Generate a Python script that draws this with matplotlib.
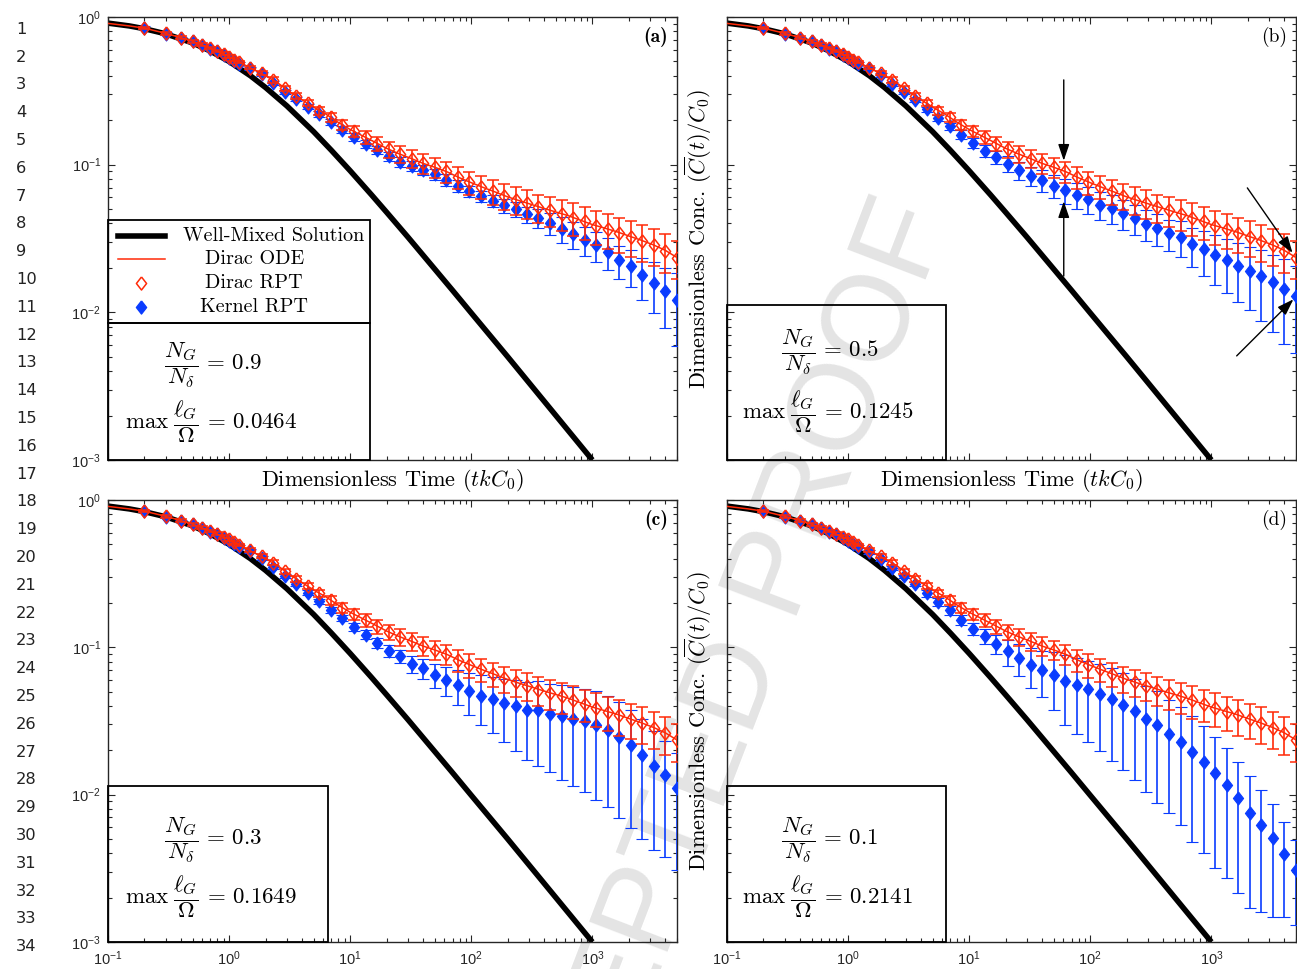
import numpy as np
import matplotlib
matplotlib.use('Agg')
import matplotlib.pyplot as plt
from matplotlib.patches import Rectangle
from matplotlib.lines import Line2D
from matplotlib.ticker import LogLocator, NullFormatter, FixedLocator

plt.rcParams['mathtext.fontset'] = 'cm'
plt.rcParams['font.family'] = ['cmr10', 'DejaVu Serif']
plt.rcParams['axes.unicode_minus'] = False
plt.rcParams['axes.formatter.use_mathtext'] = True

# ---------------- data ----------------
T_WM = [0.1, 0.15, 0.2, 0.3, 0.5, 0.7, 1, 1.5, 2, 3, 5, 7, 10, 15, 20, 30, 50, 70,
        100, 200, 500, 1000]
C_WM = [0.909, 0.87, 0.833, 0.769, 0.667, 0.588, 0.5, 0.4, 0.333, 0.25, 0.167, 0.125,
        0.0909, 0.0625, 0.0476, 0.0323, 0.0196, 0.0141, 0.0099, 0.005, 0.002, 0.001]

T_ODE = [0.1, 0.15, 0.2, 0.3, 0.4, 0.5, 0.7, 1.0, 1.3, 1.6, 2.0, 2.5, 3.2, 4.0, 5.0,
         6.3, 8.0, 10, 12.6, 16, 20, 25, 32, 40, 50, 63, 80, 100, 126, 160, 200, 250,
         320, 400, 500, 630, 800, 1000, 1260, 1600, 2000, 2500, 3200, 4000, 5000]
C_ODE = [0.905, 0.87, 0.84, 0.775, 0.725, 0.685, 0.615, 0.54, 0.48, 0.44, 0.40, 0.36,
         0.31, 0.275, 0.245, 0.22, 0.193, 0.173, 0.157, 0.142, 0.129, 0.119, 0.110,
         0.102, 0.096, 0.0895, 0.0815, 0.0755, 0.070, 0.065, 0.0605, 0.057, 0.0535,
         0.0505, 0.0478, 0.0452, 0.042, 0.0393, 0.0372, 0.0351, 0.0329, 0.0309,
         0.0286, 0.0263, 0.0235]

T_RPT = [0.2, 0.3, 0.4, 0.5, 0.6, 0.7, 0.8, 0.9, 1.0, 1.1, 1.2,
         1.49, 1.86, 2.32, 2.89, 3.59, 4.47, 5.57, 6.94, 8.64, 10.8,
         13.4, 16.7, 20.8, 25.9, 32.2, 40.1, 49.9, 62.2, 77.4, 96.4,
         120, 150, 186, 232, 289, 359, 448, 557, 694, 864,
         1076, 1340, 1668, 2077, 2587, 3221, 4011, 5000]

DIRAC_RPT = [0.84, 0.775, 0.725, 0.685, 0.65, 0.615, 0.59, 0.565, 0.54, 0.515, 0.495,
             0.455, 0.418, 0.375, 0.328, 0.291, 0.261, 0.232, 0.209, 0.186, 0.168,
             0.153, 0.139, 0.127, 0.118, 0.110, 0.102, 0.096, 0.090, 0.082, 0.076,
             0.071, 0.066, 0.0615, 0.058, 0.055, 0.0515, 0.049, 0.0465, 0.0437, 0.0413,
             0.0387, 0.0365, 0.0345, 0.0325, 0.0306, 0.0285, 0.0262, 0.0235]
DIRAC_ERR = [0.017, 0.0155, 0.0145, 0.0137, 0.013, 0.0123, 0.0118, 0.0113, 0.0108, 0.0103, 0.0099,
             0.0137, 0.0125, 0.015, 0.0131, 0.0146, 0.013, 0.0139, 0.0146, 0.0149, 0.0151,
             0.0153, 0.0153, 0.0152, 0.0153, 0.0154, 0.0153, 0.0144, 0.0144, 0.0139, 0.0137,
             0.0128, 0.0125, 0.0123, 0.0122, 0.0121, 0.0113, 0.0113, 0.0112, 0.0109, 0.0103,
             0.0101, 0.0095, 0.0093, 0.0088, 0.0086, 0.0080, 0.0076, 0.0068]

KERNEL_A = [0.847, 0.772, 0.721, 0.685, 0.647, 0.611, 0.586, 0.557, 0.531, 0.504, 0.484,
            0.448, 0.410, 0.356, 0.312, 0.277, 0.247, 0.220, 0.194, 0.173, 0.155,
            0.139, 0.126, 0.114, 0.105, 0.098, 0.092, 0.086, 0.079, 0.072, 0.066,
            0.061, 0.057, 0.053, 0.050, 0.046, 0.0436, 0.040, 0.0368, 0.034, 0.0308,
            0.0284, 0.0257, 0.0226, 0.0206, 0.0178, 0.0159, 0.0139, 0.0122]
KERNEL_A_ERR = [0.017, 0.0154, 0.0144, 0.0137, 0.0129, 0.0122, 0.0117, 0.0111, 0.0106, 0.0101, 0.0097,
                0.0134, 0.0123, 0.0107, 0.0094, 0.0083, 0.0099, 0.0099, 0.0097, 0.0095, 0.0093,
                0.0090, 0.0088, 0.0086, 0.0084, 0.0078, 0.0074, 0.0073, 0.0071, 0.0065, 0.0059,
                0.0055, 0.0057, 0.0058, 0.0060, 0.0060, 0.0065, 0.0068, 0.0074, 0.0071, 0.0068,
                0.0065, 0.0062, 0.0057, 0.0058, 0.0057, 0.0060, 0.0061, 0.0063]

KERNEL_B = [0.84, 0.772, 0.72, 0.683, 0.645, 0.61, 0.584, 0.556, 0.53, 0.503, 0.483,
            0.448, 0.405, 0.352, 0.31, 0.275, 0.238, 0.207, 0.1815, 0.1595, 0.140,
            0.1244, 0.1127, 0.1017, 0.0916, 0.0843, 0.0783, 0.0721, 0.0671, 0.0627, 0.0586,
            0.0537, 0.0510, 0.0469, 0.0434, 0.0399, 0.0373, 0.0342, 0.0325, 0.0288, 0.0267,
            0.0243, 0.0225, 0.0206, 0.0190, 0.0176, 0.0160, 0.0145, 0.0130]
KERNEL_B_ERR = [0.017, 0.0154, 0.0144, 0.0137, 0.0129, 0.0122, 0.0117, 0.0111, 0.0106, 0.0101, 0.0097,
                0.0134, 0.0122, 0.0106, 0.0093, 0.0083, 0.0095, 0.0104, 0.0109, 0.0112, 0.0112,
                0.0112, 0.0113, 0.0122, 0.0128, 0.0126, 0.0133, 0.0130, 0.0127, 0.0125, 0.0123,
                0.0118, 0.0112, 0.0108, 0.0100, 0.0096, 0.0090, 0.0082, 0.0088, 0.0086, 0.0091,
                0.0090, 0.0090, 0.0089, 0.0087, 0.0088, 0.0086, 0.0084, 0.0077]

KERNEL_C = [0.84, 0.772, 0.72, 0.683, 0.645, 0.61, 0.584, 0.556, 0.53, 0.503, 0.483,
            0.452, 0.405, 0.350, 0.305, 0.270, 0.235, 0.205, 0.180, 0.158, 0.137,
            0.1216, 0.1067, 0.0945, 0.0867, 0.0773, 0.0722, 0.0651, 0.0602, 0.0557, 0.0509,
            0.0471, 0.0445, 0.0418, 0.0397, 0.0377, 0.0373, 0.0354, 0.0340, 0.0326, 0.0314,
            0.0298, 0.0273, 0.0246, 0.0218, 0.0187, 0.0157, 0.0135, 0.0111]
KERNEL_C_ERR = [0.017, 0.0154, 0.0144, 0.0137, 0.0129, 0.0122, 0.0117, 0.0111, 0.0106, 0.0101, 0.0097,
                0.0136, 0.0122, 0.0105, 0.0092, 0.0081, 0.0094, 0.0082, 0.0090, 0.0079, 0.0082,
                0.0085, 0.0085, 0.0085, 0.0087, 0.0100, 0.0116, 0.0124, 0.0132, 0.0150, 0.0163,
                0.0174, 0.0182, 0.0192, 0.0199, 0.0204, 0.0216, 0.0212, 0.0214, 0.0212, 0.0210,
                0.0206, 0.0191, 0.0177, 0.0159, 0.0137, 0.0115, 0.0097, 0.0080]

KERNEL_D = [0.84, 0.772, 0.72, 0.683, 0.645, 0.61, 0.584, 0.556, 0.53, 0.503, 0.483,
            0.445, 0.400, 0.344, 0.303, 0.268, 0.233, 0.2045, 0.178, 0.154, 0.134,
            0.119, 0.1056, 0.0937, 0.0845, 0.0761, 0.0704, 0.0651, 0.0595, 0.0554, 0.0520,
            0.0482, 0.0445, 0.0408, 0.0367, 0.0326, 0.0295, 0.0258, 0.0228, 0.0194, 0.0166,
            0.0140, 0.0117, 0.00944, 0.00751, 0.00619, 0.00508, 0.00398, 0.00310]
KERNEL_D_ERR = [0.017, 0.0154, 0.0144, 0.0137, 0.0129, 0.0122, 0.0117, 0.0111, 0.0106, 0.0101, 0.0097,
                0.0134, 0.0120, 0.0103, 0.0091, 0.0080, 0.0117, 0.0123, 0.0125, 0.0123, 0.0134,
                0.0143, 0.0158, 0.0187, 0.0211, 0.0228, 0.0246, 0.0273, 0.0298, 0.0294, 0.0291,
                0.0284, 0.0276, 0.0261, 0.0242, 0.0222, 0.0207, 0.0183, 0.0166, 0.0146, 0.0126,
                0.0108, 0.0090, 0.0073, 0.0058, 0.0046, 0.0036, 0.0025, 0.0018]

KERNEL = [KERNEL_A, KERNEL_B, KERNEL_C, KERNEL_D]
KERNEL_ERR = [KERNEL_A_ERR, KERNEL_B_ERR, KERNEL_C_ERR, KERNEL_D_ERR]

PANEL_LABELS = ['(a)', '(b)', '(c)', '(d)']
NG_RATIO = ['0.9', '0.5', '0.3', '0.1']
MAX_LG = ['0.0464', '0.1245', '0.1649', '0.2141']
LEGEND_LABELS = ['Well-Mixed Solution', 'Dirac ODE', 'Dirac RPT', 'Kernel RPT']
XTICKS = [0.1, 1, 10, 100, 1000]
XTICK_LABELS = [r'$\mathregular{10^{-1}}$', r'$\mathregular{10^{0}}$', r'$\mathregular{10^{1}}$',
                r'$\mathregular{10^{2}}$', r'$\mathregular{10^{3}}$']
YTICKS = [0.001, 0.01, 0.1, 1]
YTICK_LABELS = [r'$\mathregular{10^{-3}}$', r'$\mathregular{10^{-2}}$', r'$\mathregular{10^{-1}}$',
                r'$\mathregular{10^{0}}$']
# annotation arrows in panel (b): (tail, tip) in data coordinates
ARROWS_B = [((60.4, 0.375), (60.4, 0.1064)),
            ((60.4, 0.0176), (60.4, 0.0565)),
            ((1982, 0.0696), (4677, 0.0253)),
            ((1618, 0.00507), (4760, 0.01225))]

# ---------------- style ----------------
RED = '#ff2a08'
BLUE = '#0a3cff'
DARK = '#262626'
DIAMOND = [(0, 1), (0.78, 0), (0, -1), (-0.78, 0), (0, 1)]
MS = 9.4

W, H = 1297, 969
fig = plt.figure(figsize=(W / 100, H / 100), dpi=100)
fig.patch.set_facecolor('white')

def px_rect(l, t, r, b):
    return [l / W, 1 - b / H, (r - l) / W, (b - t) / H]

AX_RECTS = [px_rect(108, 17, 677, 460), px_rect(727, 17, 1296, 460),
            px_rect(108, 500, 677, 942), px_rect(727, 500, 1296, 942)]

axes = []
for i, rect in enumerate(AX_RECTS):
    ax = fig.add_axes(rect)
    ax.patch.set_alpha(0)
    ax.set_xscale('log')
    ax.set_yscale('log')
    ax.set_xlim(0.1, 5000)
    ax.set_ylim(1e-3, 1)

    ax.plot(T_WM, C_WM, color='k', lw=4.0, zorder=2, solid_capstyle='butt')
    ax.errorbar(T_RPT, KERNEL[i], yerr=KERNEL_ERR[i], marker=DIAMOND, ms=MS,
                mfc=BLUE, mec=BLUE, mew=0.8, ls='none', ecolor=BLUE, elinewidth=1.2,
                capsize=4.3, capthick=1.2, zorder=3)
    ax.errorbar(T_RPT, DIRAC_RPT, yerr=DIRAC_ERR, marker=DIAMOND, ms=MS,
                mfc='none', mec=RED, mew=1.1, ls='none', ecolor=RED, elinewidth=1.2,
                capsize=4.3, capthick=1.2, zorder=4)
    ax.plot(T_ODE, C_ODE, color=RED, lw=1.1, zorder=5)

    ax.xaxis.set_major_locator(FixedLocator(XTICKS))
    ax.yaxis.set_major_locator(FixedLocator(YTICKS))
    ax.xaxis.set_minor_locator(LogLocator(base=10, subs=np.arange(2, 10), numticks=30))
    ax.yaxis.set_minor_locator(LogLocator(base=10, subs=np.arange(2, 10), numticks=30))
    ax.xaxis.set_minor_formatter(NullFormatter())
    ax.yaxis.set_minor_formatter(NullFormatter())
    if i >= 2:
        ax.set_xticklabels(XTICK_LABELS)
    else:
        ax.set_xticklabels([])
    if i % 2 == 0:
        ax.set_yticklabels(YTICK_LABELS)
    else:
        ax.set_yticklabels([])
    ax.tick_params(which='both', direction='in', top=True, right=True, colors=DARK,
                   labelsize=10.5, labelfontfamily='Liberation Sans', width=0.8)
    ax.tick_params(which='major', length=5, pad=5)
    ax.tick_params(which='minor', length=3)
    for sp in ax.spines.values():
        sp.set_linewidth(1.0)
        sp.set_color(DARK)

    if i < 2:
        ax.set_xlabel(r'Dimensionless Time $(tkC_0)$', fontsize=16, labelpad=0)
    if i % 2 == 1:
        ax.set_ylabel(r'Dimensionless Conc. $(\overline{C}(t)/C_0)$', fontsize=16, labelpad=4)

    bold = i in (0, 2)
    ax.text(0.984, 0.955, PANEL_LABELS[i], transform=ax.transAxes, ha='right', va='center',
            fontsize=14, family='cmb10' if bold else 'cmr10', zorder=12)
    axes.append(ax)

# text boxes (N_G / N_delta and max l_G / Omega)
BOX_W = [0.4605, 0.3849, 0.3866, 0.3849]
BOX_H = [0.3093, 0.3499, 0.3529, 0.3529]
LINE1 = [(0.1854, 0.2145), (0.181, 0.243), (0.1854, 0.2306), (0.181, 0.2306)]
LINE2 = [(0.181, 0.0873), (0.1775, 0.1099), (0.181, 0.1023), (0.1775, 0.1023)]
for i, ax in enumerate(axes):
    ax.add_patch(Rectangle((0, 0), BOX_W[i], BOX_H[i], transform=ax.transAxes, fill=False,
                           ec='k', lw=1.3, zorder=11, clip_on=False))
    ax.text(*LINE1[i], r'$\dfrac{N_G}{N_\delta}\,=\,%s$' % NG_RATIO[i], transform=ax.transAxes,
            ha='center', va='center', fontsize=16.5, zorder=12)
    ax.text(*LINE2[i], r'$\max\;\dfrac{\ell_G}{\Omega}\,=\,%s$' % MAX_LG[i], transform=ax.transAxes,
            ha='center', va='center', fontsize=16.5, zorder=12)

# legend in panel (a), drawn as a box
axa = axes[0]
axa.add_patch(Rectangle((0, 0.3093), 0.4605, 0.2325, transform=axa.transAxes, fill=False,
                        ec='k', lw=1.3, zorder=11, clip_on=False))
LEG_Y = [0.5056, 0.4537, 0.3995, 0.3454]
LEG_TX = [0.2909, 0.2575, 0.2557, 0.2566]
axa.add_line(Line2D([0.0176, 0.1002], [LEG_Y[0]] * 2, transform=axa.transAxes, color='k', lw=4, zorder=12))
axa.add_line(Line2D([0.0176, 0.1002], [LEG_Y[1]] * 2, transform=axa.transAxes, color=RED, lw=1.1, zorder=12))
axa.add_line(Line2D([0.058], [LEG_Y[2]], transform=axa.transAxes, marker=DIAMOND, ms=MS,
                    mfc='none', mec=RED, mew=1.1, ls='none', zorder=12))
axa.add_line(Line2D([0.058], [LEG_Y[3]], transform=axa.transAxes, marker=DIAMOND, ms=MS,
                    mfc=BLUE, mec=BLUE, ls='none', zorder=12))
for y, tx, lab in zip(LEG_Y, LEG_TX, LEGEND_LABELS):
    axa.text(tx, y, lab, transform=axa.transAxes, ha='center', va='center', fontsize=14.5, zorder=12)

# arrows in panel (b)
axb = axes[1]
for tail, tip in ARROWS_B:
    axb.annotate('', xy=tip, xytext=tail, xycoords='data', textcoords='data',
                 arrowprops=dict(arrowstyle='-|>,head_length=0.5,head_width=0.17', color='k',
                                 lw=1.0, shrinkA=0, shrinkB=0, mutation_scale=20), zorder=13)

# line numbers of the proof page
for n in range(1, 35):
    y = 29.3 + (n - 1) * 27.8
    fig.text(16 / W, 1 - y / H, str(n), ha='left', va='center', fontsize=11.7,
             family='DejaVu Sans', color='#222222')

# watermark
fig.text(716 / W, 1 - 737 / H, 'ACCEPTED PROOF', rotation=69, rotation_mode='anchor',
         ha='center', va='center', fontsize=88, family='Liberation Sans', color='#e4e4e4',
         zorder=-5)

fig.savefig('out.png', dpi=100, facecolor='white')
